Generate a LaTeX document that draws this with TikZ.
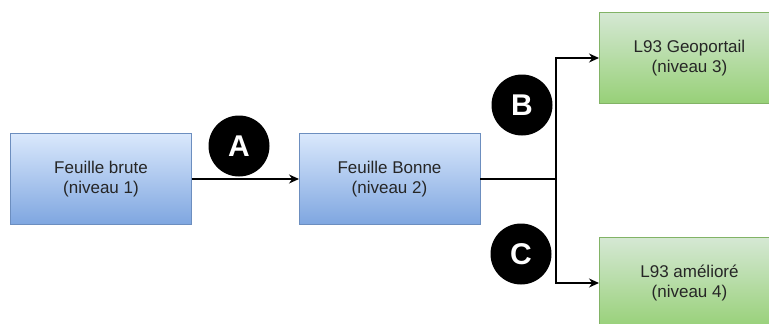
\documentclass[tikz,border=0pt]{standalone}
\usepackage{fontspec}
\setmainfont{Liberation Sans}
\usetikzlibrary{arrows.meta}
\definecolor{bluetop}{HTML}{DAE8FC}
\definecolor{bluebot}{HTML}{7EA6E0}
\definecolor{bluestroke}{HTML}{6C8EBF}
\definecolor{greentop}{HTML}{D5E8D4}
\definecolor{greenbot}{HTML}{97D077}
\definecolor{greenstroke}{HTML}{82B366}
\tikzset{
  box/.style={rectangle, minimum width=181pt, minimum height=91pt, inner sep=0pt, outer sep=0pt,
    align=center, line width=1pt, font=\fontsize{17}{20.5}\selectfont, text=black!85},
  bluebox/.style={box, draw=bluestroke, top color=bluetop, bottom color=bluebot},
  greenbox/.style={box, draw=greenstroke, top color=greentop, bottom color=greenbot},
  badge/.style={circle, fill=black, minimum size=61pt, inner sep=0pt, text=white,
    font=\fontsize{30}{30}\bfseries\selectfont},
  conn/.style={line width=1.3pt, black, -{Stealth[length=10pt,width=9pt]}},
  plain/.style={line width=1.3pt, black}
}
\begin{document}
\begin{tikzpicture}[x=1pt,y=-1pt]
\useasboundingbox (0,0) rectangle (769,324);
\node[bluebox] (b1) at (101,179) {Feuille brute\\(niveau 1)};
\node[bluebox] (b2) at (389.5,179) {Feuille Bonne\\(niveau 2)};
\node[greenbox] (g1) at (689.5,58) {L93 Geoportail\\(niveau 3)};
\node[greenbox] (g2) at (689.5,283) {L93 amélioré\\(niveau 4)};
\node[badge] (A) at (239,146) {A};
\node[badge] (B) at (522,105) {B};
\node[badge] (C) at (521,254) {C};
\coordinate (j) at (556,179);
\draw[conn] (b1.east) -- (b2.west);
\draw[plain] (b2.east) -- (j);
\draw[conn] (j) |- (g1.west);
\draw[conn] (j) |- (g2.west);
\end{tikzpicture}
\end{document}
